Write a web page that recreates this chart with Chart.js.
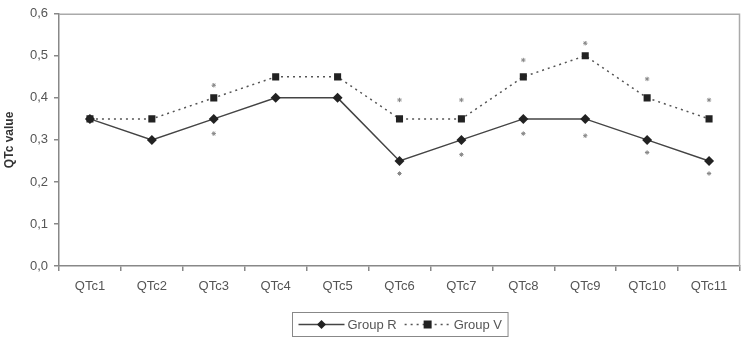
<!DOCTYPE html>
<html>
<head>
<meta charset="utf-8">
<script src="https://cdn.jsdelivr.net/npm/chart.js@4/dist/chart.umd.min.js"></script>
<style>
  html, body { margin: 0; padding: 0; background: #fff; }
  #wrap { width: 745px; height: 340px; }
</style>
</head>
<body>
<div id="wrap"><canvas id="qtcChart" width="745" height="340"></canvas></div>
<script>
var categories = ['QTc1', 'QTc2', 'QTc3', 'QTc4', 'QTc5', 'QTc6', 'QTc7', 'QTc8', 'QTc9', 'QTc10', 'QTc11']
var groupR = [0.35, 0.30, 0.35, 0.40, 0.40, 0.25, 0.30, 0.35, 0.35, 0.30, 0.25]
var groupV = [0.35, 0.35, 0.40, 0.45, 0.45, 0.35, 0.35, 0.45, 0.50, 0.40, 0.35]
// significance asterisks, above group V and below group R
var starsAbove = [null, null, 0.43, null, null, 0.395, 0.395, 0.49, 0.53, 0.445, 0.395]
var starsBelow = [null, null, 0.315, null, null, 0.22, 0.265, 0.315, 0.31, 0.27, 0.22]
var yTicks = [0, 0.1, 0.2, 0.3, 0.4, 0.5, 0.6]

var FONT = 'Liberation Sans'
var TEXT = '#555'
var AXIS = '#888'

function fmt(v) {
  return v.toFixed(1).replace('.', ',')
}

// gray frame around the plot area (top/right lighter than axes)
var plotFrame = {
  id: 'plotFrame',
  beforeDatasetsDraw: function(chart) {
    var a = chart.chartArea, ctx = chart.ctx
    ctx.save()
    ctx.strokeStyle = '#aaa'
    ctx.lineWidth = 1.5
    ctx.beginPath()
    ctx.moveTo(a.left, a.top + 0.5)
    ctx.lineTo(a.right - 0.5, a.top + 0.5)
    ctx.lineTo(a.right - 0.5, a.bottom)
    ctx.stroke()
    ctx.restore()
  }
}

function drawMarker(ctx, style, x, y) {
  ctx.fillStyle = '#222'
  ctx.beginPath()
  if (style == 'rectRot') {
    ctx.moveTo(x, y - 4.5)
    ctx.lineTo(x + 4.5, y)
    ctx.lineTo(x, y + 4.5)
    ctx.lineTo(x - 4.5, y)
    ctx.closePath()
  } else {
    ctx.rect(x - 4, y - 4, 8, 8)
  }
  ctx.fill()
}

// legend in a box under the plot, line sample with marker in the middle
var boxedLegend = {
  id: 'boxedLegend',
  afterDraw: function(chart) {
    var ctx = chart.ctx
    var a = chart.chartArea
    var items = chart.data.datasets.slice(0, 2)
    ctx.save()
    ctx.font = '13px ' + FONT
    var sampleW = 46, gap = 3, itemGap = 8, padX = 6
    var total = padX * 2
    items.forEach(function(ds, i) {
      total += sampleW + gap + ctx.measureText(ds.label).width + (i ? 0 : itemGap)
    })
    var cx = (a.left + a.right) / 2
    var x = Math.round(cx - total / 2) + 0.5
    var y = 312.5, h = 24
    ctx.strokeStyle = '#888'
    ctx.lineWidth = 1
    ctx.strokeRect(x, y, total, h)
    var cy = y + h / 2
    var px = x + padX
    items.forEach(function(ds) {
      ctx.strokeStyle = ds.borderColor
      ctx.lineWidth = ds.borderWidth
      ctx.setLineDash(ds.borderDash || [])
      ctx.beginPath()
      ctx.moveTo(px, cy)
      ctx.lineTo(px + sampleW, cy)
      ctx.stroke()
      ctx.setLineDash([])
      drawMarker(ctx, ds.pointStyle, px + sampleW / 2, cy)
      ctx.fillStyle = TEXT
      ctx.textBaseline = 'middle'
      ctx.fillText(ds.label, px + sampleW + gap, cy + 1)
      px += sampleW + gap + ctx.measureText(ds.label).width + itemGap
    })
    ctx.restore()
  }
}

var ctx = document.getElementById('qtcChart')
var qtcChart = new Chart(ctx, {
  type: 'line',
  data: {
    labels: categories,
    datasets: [
      {
        label: 'Group R',
        data: groupR,
        borderColor: '#444',
        borderWidth: 1.5,
        pointStyle: 'rectRot',
        pointRadius: 5,
        pointBackgroundColor: '#222',
        pointBorderColor: '#222',
        pointBorderWidth: 0,
        tension: 0
      },
      {
        label: 'Group V',
        data: groupV,
        borderColor: '#555',
        borderWidth: 1.5,
        borderDash: [2, 4],
        pointStyle: 'rect',
        pointRadius: 5,
        pointBackgroundColor: '#222',
        pointBorderColor: '#222',
        pointBorderWidth: 0,
        tension: 0
      },
      {
        label: 'starsAbove',
        data: starsAbove,
        showLine: false,
        pointStyle: 'star',
        pointRadius: 2.2,
        pointBorderColor: '#888',
        pointBorderWidth: 1
      },
      {
        label: 'starsBelow',
        data: starsBelow,
        showLine: false,
        pointStyle: 'star',
        pointRadius: 2.2,
        pointBorderColor: '#888',
        pointBorderWidth: 1
      }
    ]
  },
  options: {
    responsive: false,
    animation: false,
    devicePixelRatio: 1,
    layout: { padding: { top: 10, right: 5, left: 0, bottom: 0 } },
    plugins: {
      legend: { display: false },
      tooltip: { enabled: false }
    },
    scales: {
      x: {
        offset: true,
        grid: {
          offset: true,
          drawOnChartArea: false,
          tickLength: 5,
          color: AXIS,
          lineWidth: 1.5
        },
        border: { color: AXIS, width: 1.5 },
        ticks: {
          padding: 8,
          color: TEXT,
          font: { family: FONT, size: 13 },
          maxRotation: 0
        },
        afterFit: function(scale) { scale.height = 74 }
      },
      y: {
        min: 0,
        max: 0.6,
        afterBuildTicks: function(scale) {
          scale.ticks = yTicks.map(function(v) { return { value: v } })
        },
        grid: {
          drawOnChartArea: false,
          tickLength: 5,
          color: AXIS,
          lineWidth: 1.5
        },
        border: { color: AXIS, width: 1.5 },
        ticks: {
          padding: 6,
          color: TEXT,
          font: { family: FONT, size: 13 },
          callback: function(v) { return fmt(v) }
        },
        title: {
          display: true,
          text: 'QTc value',
          color: '#333',
          font: { family: FONT, size: 12, weight: 'bold' },
          padding: { top: 2, bottom: 0 }
        },
        afterFit: function(scale) { scale.width = 59 }
      }
    }
  },
  plugins: [plotFrame, boxedLegend]
})
</script>
</body>
</html>
